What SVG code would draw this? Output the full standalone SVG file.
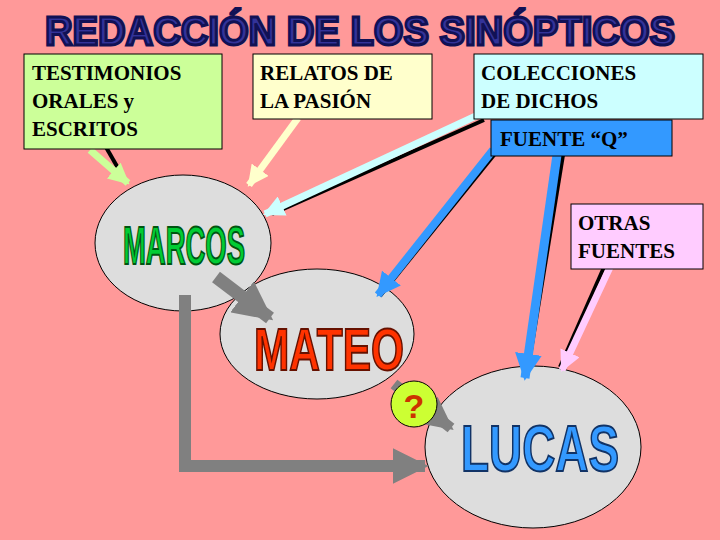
<svg xmlns="http://www.w3.org/2000/svg" width="720" height="540" viewBox="0 0 720 540">
<style>
.box{stroke:#000;stroke-width:1}
.bt{font-family:"Liberation Serif",serif;font-size:21px;font-weight:bold;fill:#000}
.ell{fill:#DDDDDD;stroke:#000;stroke-width:1}
.big{font-family:"Liberation Sans",sans-serif;font-weight:bold;stroke-width:2}
.sh{stroke:#000;stroke-width:4;fill:none}
</style>
<defs>
<marker id="ah" viewBox="0 0 10 10" refX="9" refY="5" markerWidth="3" markerHeight="3" orient="auto" markerUnits="strokeWidth"><path d="M0,0L10,5L0,10z" fill="context-stroke"/></marker>
</defs>
<rect width="720" height="540" fill="#FF9999"/>
<text x="360" y="45" text-anchor="middle" font-family="Liberation Sans,sans-serif" font-weight="bold" font-size="40" fill="#333399" stroke="#111155" stroke-width="3" textLength="630" lengthAdjust="spacingAndGlyphs">REDACCIÓN DE LOS SINÓPTICOS</text>
<g id="marcos"><ellipse class="ell" cx="183" cy="243" rx="88" ry="68"/><text class="big" x="184" y="264" text-anchor="middle" font-size="54" fill="#00CC33" stroke="#005511" textLength="122" lengthAdjust="spacingAndGlyphs">MARCOS</text></g>
<g id="mateo"><ellipse class="ell" cx="317" cy="334" rx="97" ry="65"/><text class="big" x="329" y="370" text-anchor="middle" font-size="60" fill="#FF3300" stroke="#661100" textLength="150" lengthAdjust="spacingAndGlyphs">MATEO</text></g>
<g id="lucas"><ellipse class="ell" cx="533" cy="447" rx="108" ry="81"/><text class="big" x="540" y="471" text-anchor="middle" font-size="64" fill="#3399FF" stroke="#113366" textLength="158" lengthAdjust="spacingAndGlyphs">LUCAS</text></g>
<g id="connectors">
<line x1="95" y1="128" x2="126" y2="182" class="sh"/>
<line x1="90" y1="150" x2="128" y2="183" stroke="#CCFF99" stroke-width="7" marker-end="url(#ah)"/>
<line x1="302" y1="112" x2="252" y2="182" class="sh"/>
<line x1="298" y1="118" x2="249" y2="185" stroke="#FFFFCC" stroke-width="7" marker-end="url(#ah)"/>
<line x1="484" y1="120" x2="272" y2="214" class="sh"/>
<line x1="478" y1="115" x2="265" y2="214" stroke="#CCFFFF" stroke-width="7" marker-end="url(#ah)"/>
<line x1="498" y1="150" x2="380" y2="296" class="sh"/>
<line x1="493" y1="150" x2="378" y2="295" stroke="#3399FF" stroke-width="8" marker-end="url(#ah)"/>
<line x1="563" y1="155" x2="527" y2="375" class="sh"/>
<line x1="557" y1="155" x2="525" y2="378" stroke="#3399FF" stroke-width="9" marker-end="url(#ah)"/>
<line x1="605" y1="265" x2="560" y2="367" class="sh"/>
<line x1="611" y1="265" x2="562" y2="370" stroke="#FFCCFF" stroke-width="7" marker-end="url(#ah)"/>
<line x1="216" y1="277" x2="270" y2="318" stroke="#808080" stroke-width="13" marker-end="url(#ah)"/>
<path d="M185,295V466H425" stroke="#808080" stroke-width="12" fill="none" marker-end="url(#ah)"/>
<line x1="394" y1="384" x2="451" y2="428" stroke="#808080" stroke-width="11" marker-end="url(#ah)"/>
</g>
<g id="q"><circle cx="414" cy="404" r="23" fill="#CCFF33" stroke="#000"/><text x="414" y="418" text-anchor="middle" font-family="Liberation Sans,sans-serif" font-weight="bold" font-size="34" fill="#CC3300">?</text></g>
<g id="testimonios"><rect class="box" x="24" y="54" width="198" height="95" fill="#CCFF99"/><text class="bt"><tspan x="32" y="80">TESTIMONIOS</tspan><tspan x="32" y="108">ORALES y</tspan><tspan x="32" y="136">ESCRITOS</tspan></text></g>
<g id="relatos"><rect class="box" x="253" y="54" width="179" height="65" fill="#FFFFCC"/><text class="bt"><tspan x="260" y="80">RELATOS DE</tspan><tspan x="260" y="108">LA PASIÓN</tspan></text></g>
<g id="colecciones"><rect class="box" x="474" y="54" width="229" height="65" fill="#CCFFFF"/><text class="bt"><tspan x="481" y="80">COLECCIONES</tspan><tspan x="481" y="108">DE DICHOS</tspan></text></g>
<g id="fuenteq"><rect class="box" x="491" y="120" width="181" height="36" fill="#3399FF"/><text class="bt" x="500" y="146">FUENTE “Q”</text></g>
<g id="otras"><rect class="box" x="571" y="204" width="132" height="65" fill="#FFCCFF"/><text class="bt"><tspan x="578" y="230">OTRAS</tspan><tspan x="578" y="258">FUENTES</tspan></text></g>
</svg>
